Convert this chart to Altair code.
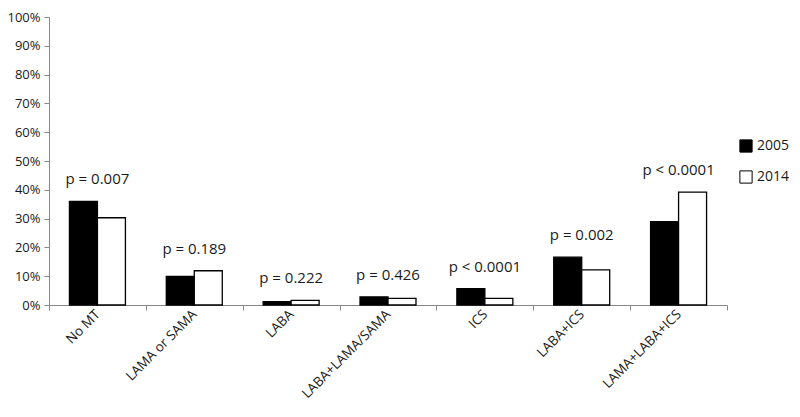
import altair as alt
import pandas as pd

categories = ["No MT", "LAMA or SAMA", "LABA", "LABA+LAMA/SAMA", "ICS", "LABA+ICS", "LAMA+LABA+ICS"]
v2005 = [0.360, 0.099, 0.012, 0.028, 0.057, 0.166, 0.289]
v2014 = [0.303, 0.119, 0.016, 0.023, 0.023, 0.122, 0.392]
pvals = ["p = 0.007", "p = 0.189", "p = 0.222", "p = 0.426", "p < 0.0001", "p = 0.002", "p < 0.0001"]
years = ["2005", "2014"]
ytick_values = [0.0, 0.1, 0.2, 0.3, 0.4, 0.5, 0.6, 0.7, 0.8, 0.9, 1.0]

rows = []
for c, a, b in zip(categories, v2005, v2014):
    rows.append({"cat": c, "year": years[0], "val": a})
    rows.append({"cat": c, "year": years[1], "val": b})
df = pd.DataFrame(rows)
pdf = pd.DataFrame({"cat": categories, "top": [max(a, b) for a, b in zip(v2005, v2014)], "p": pvals})

FONT = "Open Sans"

xaxis = alt.Axis(labelAngle=-45, labelAlign="right", labelBaseline="middle",
                 tickBand="extent", tickSize=5, labelPadding=2,
                 labelFontSize=13.5, labelFont=FONT, labelColor="#1a1a1a",
                 domainColor="#888", tickColor="#888")
yaxis = alt.Axis(format="%", values=ytick_values, grid=False,
                 labelOverlap=False, labelFlush=False,
                 tickSize=5, labelFontSize=13, labelFont=FONT, labelColor="#1a1a1a",
                 domainColor="#888", tickColor="#888", labelPadding=4)
xscale = alt.Scale(paddingInner=0, paddingOuter=0)
yscale = alt.Scale(domain=[0, 1])

bars = alt.Chart(df).mark_bar(stroke="black", strokeWidth=1.3).encode(
    x=alt.X("cat:N", sort=categories, title=None, scale=xscale, axis=xaxis),
    xOffset=alt.XOffset("year:N", sort=years, scale=alt.Scale(paddingInner=0, paddingOuter=0.73)),
    y=alt.Y("val:Q", title=None, scale=yscale, axis=yaxis),
    fill=alt.Fill("year:N", sort=years, title=None,
                  scale=alt.Scale(domain=years, range=["black", "white"]),
                  legend=alt.Legend(orient="none", legendX=690, legendY=122, symbolType="square",
                                    symbolSize=150, symbolStrokeColor="black", symbolStrokeWidth=1,
                                    labelFontSize=14, labelFont=FONT, labelColor="#1a1a1a",
                                    rowPadding=13, labelOffset=4)),
)

texts = alt.Chart(pdf).mark_text(dy=-22, baseline="middle", fontSize=15, font=FONT, color="#1a1a1a").encode(
    x=alt.X("cat:N", sort=categories, title=None, scale=xscale, axis=xaxis),
    y=alt.Y("top:Q", title=None, scale=yscale, axis=yaxis),
    text="p:N",
)

chart = alt.layer(bars, texts).properties(
    width=678, height=288,
    autosize=alt.AutoSizeParams(type="none"),
    padding={"left": 41, "top": 9, "right": 64, "bottom": 98},
).configure_view(stroke=None)

chart.save("out.html", embed_options={"renderer": "svg", "actions": False})
